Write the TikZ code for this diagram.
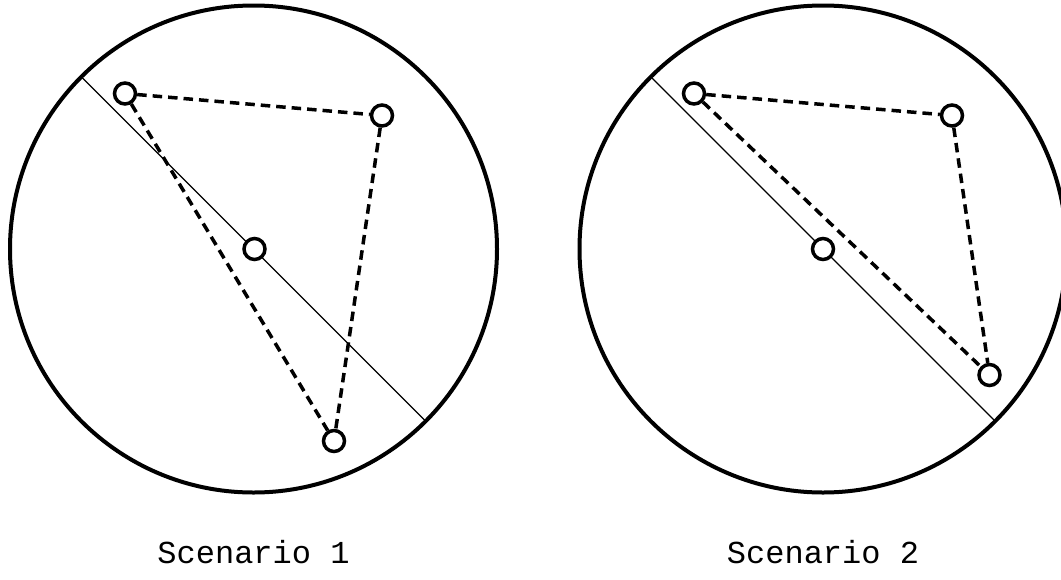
\documentclass[tikz,border=0pt]{standalone}
\usepackage{fontspec}
\newfontfamily\labelfont{Liberation Mono}
\begin{document}
\begin{tikzpicture}[x=1pt,y=-1pt,
  disc/.style={circle,draw,line width=4pt,minimum size=487pt,inner sep=0pt,outer sep=0pt},
  pt/.style={circle,draw,line width=3.5pt,fill=white,minimum size=21pt,inner sep=0pt},
  link/.style={line width=3.5pt,dash pattern=on 9.5pt off 6pt},
  axis/.style={line width=1.1pt},
  caption/.style={font=\labelfont\fontsize{32}{38}\selectfont,anchor=base}]
\useasboundingbox (0,0) rectangle (1061,579);
\clip (0,0) rectangle (1061,579);

% Scenario 1
\node[disc] (L) at (253.5,249) {};
\draw[axis] (L.135) -- (L.-45);
\node[pt] (La) at (125,93.5) {};
\node[pt] (Lb) at (382,115.5) {};
\node[pt] (Lc) at (254.5,249) {};
\node[pt] (Ld) at (334,441) {};
\draw[link] (La) -- (Lb);
\draw[link] (Lb) -- (Ld);
\draw[link] (La) -- (Ld);
\node[caption] (Lt) at (253.5,563) {Scenario 1};

% Scenario 2
\node[disc] (R) at (823,249) {};
\draw[axis] (R.135) -- (R.-45);
\node[pt] (Ra) at (694,93.5) {};
\node[pt] (Rb) at (952,115.5) {};
\node[pt] (Rc) at (823,249) {};
\node[pt] (Rd) at (989.5,375) {};
\draw[link] (Ra) -- (Rb);
\draw[link] (Rb) -- (Rd);
\draw[link] (Ra) -- (Rd);
\node[caption] (Rt) at (823,563) {Scenario 2};
\end{tikzpicture}
\end{document}
